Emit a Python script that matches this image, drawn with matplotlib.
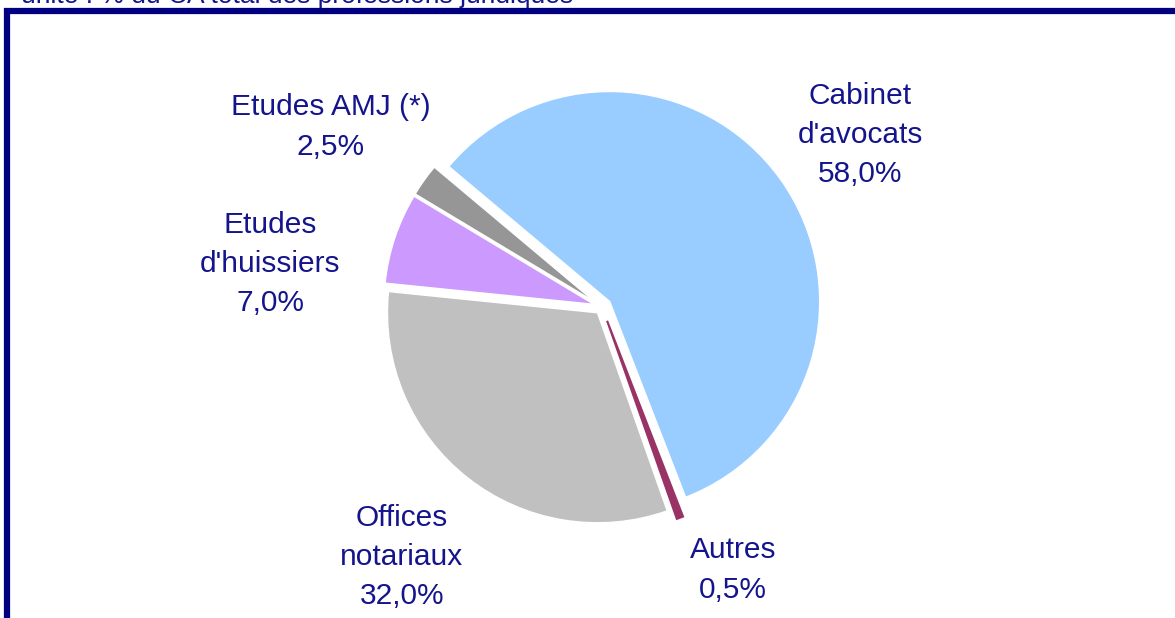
import matplotlib.pyplot as plt
from matplotlib.patches import Rectangle

# Part du CA total des professions juridiques (%)
labels = ["Cabinet\nd'avocats", "Autres", "Offices\nnotariaux",
          "Etudes\nd'huissiers", "Etudes AMJ (*)"]
values = [58.0, 0.5, 32.0, 7.0, 2.5]
colors = ["#99CCFF", "#993366", "#C0C0C0", "#CC99FF", "#969696"]
explode = [0.045, 0.07, 0.035, 0.04, 0.04]

navy = "#14148C"
plt.rcParams["font.family"] = ["Liberation Sans", "DejaVu Sans"]

fig = plt.figure(figsize=(11.75, 6.18), dpi=100)
ax = fig.add_axes([0, 0, 1, 1])

wedges, _ = ax.pie(values, colors=colors, explode=explode, startangle=140,
                   counterclock=False, radius=1.0,
                   wedgeprops=dict(edgecolor="white", linewidth=1))
# the tiny "Autres" slice is drawn as a thick line
wedges[1].set_edgecolor(colors[1])
wedges[1].set_linewidth(1.5)

# 1 data unit = 210 px (pie radius), pie centre at pixel (602, 307)
R = 210.0
cx, cy = 602.0, 307.0
ax.set_xlim(-cx / R, (1175 - cx) / R)
ax.set_ylim(-(618 - cy) / R, cy / R)
ax.set_aspect("equal")
ax.axis("off")

# label positions in pixels (centre of each text block)
label_px = [(860, 135), (733, 570), (402, 557), (270, 264), (331, 127)]
for lab, v, (px, py) in zip(labels, values, label_px):
    txt = lab + "\n" + f"{v:.1f}".replace(".", ",") + "%"
    ax.text((px - cx) / R, (cy - py) / R, txt, ha="center", va="center",
            fontsize=21.5, color=navy, linespacing=1.52)

# frame (only top and left edges visible)
fig.patches.append(Rectangle((7, -50), 1300, 618 - 11 + 50, transform=None,
                             fill=False, edgecolor="#000080", linewidth=4.5))

fig.text(21 / 1175, 1 - 2.5 / 618, "unité : % du CA total des professions juridiques",
         ha="left", va="baseline", fontsize=19, color=navy)

fig.savefig("out.png", dpi=100)
